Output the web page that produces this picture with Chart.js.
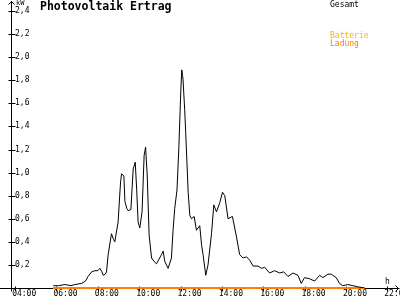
<!DOCTYPE html>
<html>
<head>
<meta charset="utf-8">
<script src="https://cdn.jsdelivr.net/npm/chart.js@4"></script>
<style>
    body { margin: 0; background: #ffffff; }
    #wrap { position: relative; width: 400px; height: 300px; }
    .lbl { position: absolute; font-family: "DejaVu Sans Mono", monospace; white-space: nowrap; }
    #title { left: 40px; top: 1px; font-size: 11.5px; line-height: 11.5px; font-weight: bold; color: #000; }
    .legend { left: 330px; font-size: 8px; line-height: 8px; }
    #unitY { left: 16px; top: 0px; font-size: 7px; line-height: 7px; }
    #unitX { left: 385px; top: 278px; font-size: 8px; line-height: 8px; }
</style>
</head>
<body>
<div id="wrap">
    <canvas id="pvChart" width="400" height="300"></canvas>
    <div class="lbl" id="title">Photovoltaik Ertrag</div>
    <div class="lbl legend" style="top:1px;color:#000000">Gesamt</div>
    <div class="lbl legend" style="top:32px;color:#FFB000">Batterie</div>
    <div class="lbl legend" style="top:40px;color:#FF8000">Ladung</div>
    <div class="lbl" id="unitY">kW</div>
    <div class="lbl" id="unitX">h</div>
</div>
<script>
// time of day in hours, total output in kW
const hours = [
    5.84, 6.10, 6.41, 6.70, 6.89, 7.22, 7.40, 7.53, 7.70, 7.86, 8.00, 8.10, 8.20, 8.26, 8.36, 8.42,
    8.50, 8.66, 8.76, 8.82, 8.98, 9.10, 9.15, 9.26, 9.31, 9.40, 9.47, 9.60, 9.71, 9.81, 9.88, 9.95,
    10.03, 10.14, 10.24, 10.31, 10.39, 10.48, 10.60, 10.72, 10.84, 10.96, 11.08, 11.16, 11.24, 11.40,
    11.56, 11.64, 11.72, 11.83, 11.92, 12.01, 12.06, 12.10, 12.12, 12.20, 12.25, 12.37, 12.45, 12.53,
    12.66, 12.77, 12.93, 13.02, 13.09, 13.22, 13.33, 13.50, 13.61, 13.74, 13.90, 14.03, 14.14, 14.30,
    14.51, 14.70, 14.86, 15.02, 15.19, 15.35, 15.51, 15.75, 15.93, 16.07, 16.31, 16.55, 16.80, 16.99,
    17.20, 17.44, 17.68, 17.84, 18.00, 18.24, 18.49, 18.73, 18.89, 19.13, 19.29, 19.53, 19.69, 19.85,
    20.09, 20.34, 20.58, 20.90
];
const gesamt = [
    0.02, 0.02, 0.03, 0.02, 0.03, 0.04, 0.06, 0.10, 0.14, 0.15, 0.15, 0.17, 0.14, 0.11, 0.12, 0.14,
    0.29, 0.47, 0.42, 0.40, 0.57, 0.92, 0.99, 0.97, 0.75, 0.69, 0.67, 0.68, 1.03, 1.09, 0.85, 0.57,
    0.52, 0.66, 1.15, 1.22, 0.97, 0.46, 0.26, 0.23, 0.21, 0.25, 0.29, 0.32, 0.23, 0.17,
    0.26, 0.50, 0.69, 0.85, 1.22, 1.69, 1.89, 1.84, 1.81, 1.55, 1.35, 0.83, 0.63, 0.60,
    0.62, 0.50, 0.54, 0.37, 0.29, 0.11, 0.20, 0.47, 0.72, 0.66, 0.74, 0.83, 0.80, 0.60,
    0.62, 0.45, 0.29, 0.26, 0.27, 0.24, 0.19, 0.19, 0.17, 0.18, 0.13, 0.15, 0.13, 0.14,
    0.10, 0.13, 0.11, 0.04, 0.09, 0.08, 0.06, 0.11, 0.09, 0.12, 0.12, 0.09, 0.04, 0.02,
    0.03, 0.02, 0.01, 0.00
];
// battery series stay at zero over the same span
const batterieHours = [5.84, 20.90];
const batterie = [0, 0];
const ladungHours = [5.84, 20.90];
const ladung = [0, 0];

const xTickHours = [4, 6, 8, 10, 12, 14, 16, 18, 20, 22];
const yTickValues = [0.2, 0.4, 0.6, 0.8, 1.0, 1.2, 1.4, 1.6, 1.8, 2.0, 2.2, 2.4];

const toPoints = (xs, ys) => xs.map((h, i) => ({ x: h, y: ys[i] }));

// axis lines with arrows and small cross ticks, like the old gnuplot-ish look
const axisPlugin = {
    id: 'axisArrows',
    beforeDatasetsDraw(chart) {
        const { ctx, chartArea: a, scales: { x, y } } = chart;
        const l = Math.round(a.left) + 0.5;
        const b = Math.round(a.bottom) + 0.5;
        const r = Math.round(a.right) + 0.5;
        ctx.save();
        ctx.strokeStyle = '#000000';
        ctx.lineWidth = 1;
        ctx.beginPath();
        ctx.moveTo(0, b);
        ctx.lineTo(r + 1, b);
        ctx.moveTo(r - 3, b - 3);
        ctx.lineTo(r, b);
        ctx.lineTo(r - 3, b + 3);
        ctx.moveTo(l, b + 3);
        ctx.lineTo(l, 1);
        ctx.moveTo(l - 3, 4.5);
        ctx.lineTo(l, 1.5);
        ctx.lineTo(l + 3, 4.5);
        y.ticks.forEach(t => {
            const py = Math.round(y.getPixelForValue(t.value)) + 0.5;
            ctx.moveTo(l - 3, py);
            ctx.lineTo(l + 4, py);
        });
        x.ticks.forEach(t => {
            const px = Math.round(x.getPixelForValue(t.value)) + 0.5;
            ctx.moveTo(px, b - 2);
            ctx.lineTo(px, b + 3);
        });
        ctx.stroke();
        ctx.restore();
    }
};

const tickFont = { family: 'DejaVu Sans Mono', size: 8, lineHeight: 1 };

new Chart(document.getElementById('pvChart'), {
    type: 'line',
    data: {
        datasets: [
            {
                label: 'Gesamt',
                data: toPoints(hours, gesamt),
                borderColor: '#000000',
                borderWidth: 1,
                pointRadius: 0,
                tension: 0,
                order: 1
            },
            {
                label: 'Batterie',
                data: toPoints(batterieHours, batterie),
                borderColor: '#FFB000',
                borderWidth: 2,
                pointRadius: 0,
                clip: false,
                order: 3
            },
            {
                label: 'Ladung',
                data: toPoints(ladungHours, ladung),
                borderColor: '#FF8000',
                borderWidth: 2,
                pointRadius: 0,
                clip: false,
                order: 2
            }
        ]
    },
    options: {
        responsive: false,
        animation: false,
        devicePixelRatio: 1,
        layout: { padding: { left: 3, right: 2, top: 11, bottom: 0 } },
        plugins: {
            legend: { display: false },
            tooltip: { enabled: false },
            title: { display: false }
        },
        scales: {
            x: {
                type: 'linear',
                min: 3.8,
                max: 22.52,
                grid: { display: false, drawTicks: false },
                border: { display: false },
                afterBuildTicks: scale => { scale.ticks = xTickHours.map(v => ({ value: v })); },
                afterFit: scale => { scale.paddingLeft = 0; scale.paddingRight = 0; },
                ticks: {
                    font: tickFont,
                    color: '#000000',
                    padding: 2,
                    align: 'start',
                    labelOffset: -3,
                    maxRotation: 0,
                    autoSkip: false,
                    callback: v => String(v).padStart(2, '0') + ':00'
                }
            },
            y: {
                min: 0,
                max: 2.4,
                grid: { display: false, drawTicks: false },
                border: { display: false },
                afterBuildTicks: scale => { scale.ticks = yTickValues.map(v => ({ value: v })); },
                ticks: {
                    font: tickFont,
                    color: '#000000',
                    mirror: true,
                    padding: 4,
                    callback: v => v.toFixed(1).replace('.', ',')
                }
            }
        }
    },
    plugins: [axisPlugin]
});
</script>
</body>
</html>
